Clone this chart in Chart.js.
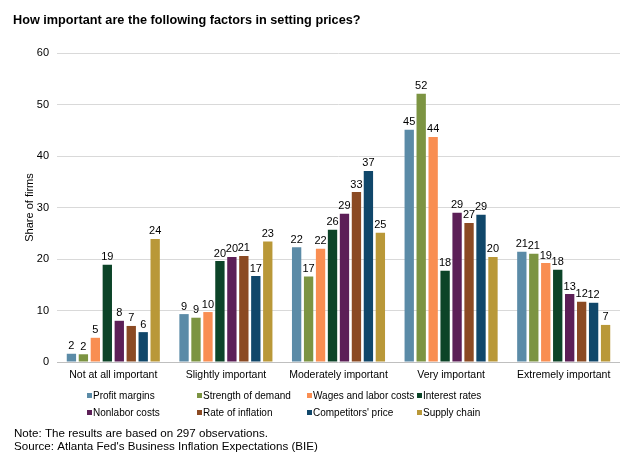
<!DOCTYPE html>
<html lang="en">
<head>
    <meta charset="UTF-8">
    <title>Setting prices</title>
    <style>
        body { margin: 0; background: #fff; }
        .chart-box { width: 634px; height: 464px; position: relative; }
    </style>
</head>
<body>
<div class="chart-box">
    <canvas id="priceChart"></canvas>
</div>

<script src="https://cdn.jsdelivr.net/npm/chart.js"></script>
<script>
// categories and series (share of firms, %)
const categories = ['Not at all important', 'Slightly important', 'Moderately important', 'Very important', 'Extremely important'];
const seriesNames = ['Profit margins', 'Strength of demand', 'Wages and labor costs', 'Interest rates',
                     'Nonlabor costs', 'Rate of inflation', "Competitors' price", 'Supply chain'];
const profitMargins  = [1.6, 9.3, 22.3, 45.1, 21.4];
const demand         = [1.5, 8.6, 16.6, 52.1, 21.0];
const wages          = [4.7, 9.7, 22.0, 43.7, 19.2];
const interestRates  = [18.9, 19.6, 25.7, 17.7, 17.9];
const nonlabor       = [8.0, 20.4, 28.8, 29.0, 13.2];
const inflation      = [7.0, 20.6, 33.0, 27.0, 11.7];
const competitors    = [5.8, 16.7, 37.1, 28.6, 11.5];
const supplyChain    = [23.9, 23.4, 25.1, 20.4, 7.2];
const yTicks = [0, 10, 20, 30, 40, 50, 60];

const allSeries = [profitMargins, demand, wages, interestRates, nonlabor, inflation, competitors, supplyChain];
const colors = ['#5b8ba7', '#7c9442', '#f98e52', '#0c4428', '#5c1f57', '#8b4a23', '#10476a', '#b99838'];
const FONT = "'Liberation Sans', Arial, sans-serif";

// value labels above each bar
const barLabels = {
    id: 'barLabels',
    afterDatasetsDraw(chart) {
        const ctx = chart.ctx;
        ctx.save();
        ctx.font = '11px ' + FONT;
        ctx.fillStyle = '#000';
        ctx.textAlign = 'center';
        ctx.textBaseline = 'bottom';
        chart.data.datasets.forEach((ds, i) => {
            chart.getDatasetMeta(i).data.forEach((bar, j) => {
                ctx.fillText(Math.round(ds.data[j]), bar.x, bar.y - 2);
            });
        });
        ctx.restore();
    }
};

// title, two-row legend and notes
const extras = {
    id: 'extras',
    afterDraw(chart) {
        const ctx = chart.ctx;
        ctx.save();
        ctx.fillStyle = '#000';
        ctx.textBaseline = 'middle';
        ctx.textAlign = 'left';
        ctx.font = 'bold 12.7px ' + FONT;
        ctx.fillText('How important are the following factors in setting prices?', 13, 20);

        ctx.font = '10px ' + FONT;
        chart.data.datasets.forEach((ds, i) => {
            const x = 87 + (i % 4) * 110;
            const y = 396 + Math.floor(i / 4) * 17;
            ctx.fillStyle = ds.backgroundColor;
            ctx.fillRect(x, y - 3, 5, 5);
            ctx.fillStyle = '#000';
            ctx.fillText(ds.label, x + 6, y);
        });

        ctx.font = '11.6px ' + FONT;
        ctx.fillText('Note: The results are based on 297 observations.', 14, 434);
        ctx.fillText("Source: Atlanta Fed's Business Inflation Expectations (BIE)", 14, 447);
        ctx.restore();
    }
};

const datasets = seriesNames.map((name, i) => ({
    label: name,
    data: allSeries[i],
    backgroundColor: colors[i],
    barPercentage: 0.78,
    categoryPercentage: 0.85
}));

new Chart(document.getElementById('priceChart'), {
    type: 'bar',
    data: { labels: categories, datasets: datasets },
    options: {
        responsive: true,
        maintainAspectRatio: false,
        animation: false,
        layout: { padding: { left: 14, right: 14, top: 53, bottom: 82 } },
        plugins: {
            legend: { display: false },
            title: { display: false },
            tooltip: { enabled: false }
        },
        scales: {
            x: {
                grid: { display: false, drawTicks: false },
                border: { display: false },
                ticks: { color: '#000', font: { family: FONT, size: 10.5 }, padding: 7, maxRotation: 0 },
                afterFit(scale) { scale.height = 20; }
            },
            y: {
                min: 0,
                max: 60,
                afterBuildTicks(scale) { scale.ticks = yTicks.map(v => ({ value: v })); },
                grid: {
                    drawTicks: false,
                    color: ctx => ctx.tick && ctx.tick.value === 0 ? '#bfbfbf' : '#d9d9d9'
                },
                border: { display: false },
                ticks: { color: '#000', font: { family: FONT, size: 11 }, padding: 8 },
                title: {
                    display: true,
                    text: 'Share of firms',
                    color: '#000',
                    font: { family: FONT, size: 11 },
                    padding: { top: 9, bottom: 0 }
                },
                afterFit(scale) { scale.width = 43; }
            }
        }
    },
    plugins: [barLabels, extras]
});
</script>
</body>
</html>
